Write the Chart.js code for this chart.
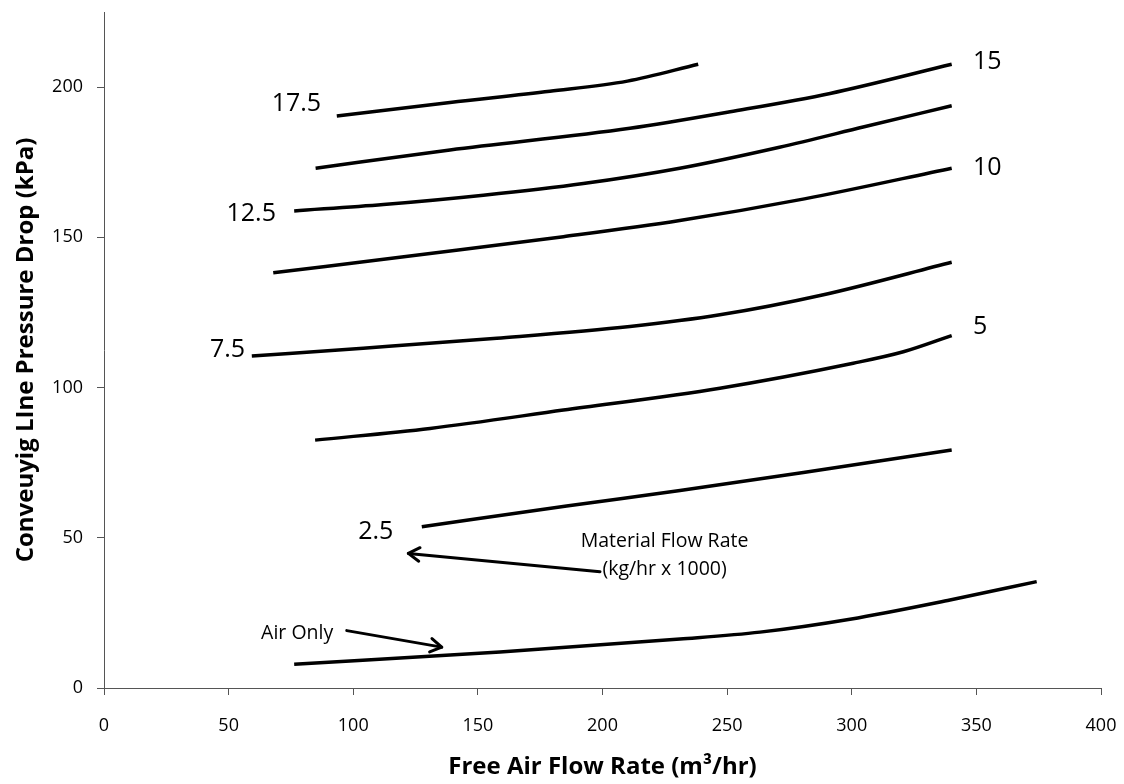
<!DOCTYPE html>
<html>
<head>
<meta charset="utf-8">
<script src="https://cdn.jsdelivr.net/npm/chart.js@4.4.1/dist/chart.umd.min.js"></script>
<style>
  html, body { margin: 0; padding: 0; background: #fff; }
</style>
</head>
<body>
<canvas id="chart" width="1124" height="784"></canvas>
<script>
// free air flow rate (m3/hr) vs conveying line pressure drop (kPa), one pair per curve
const airOnlyX = [76.3, 158.9, 231.1, 263.2, 299.3, 339.4, 374.2];
const airOnlyY = [7.9, 12.0, 16.3, 18.6, 22.9, 29.3, 35.4];

const rate2_5X = [127.5, 185.6, 231.1, 280.6, 340.1];
const rate2_5Y = [53.7, 60.6, 65.7, 71.7, 79.2];

const rate5X = [84.7, 130.8, 184.3, 247.1, 300.6, 320.7, 340.1];
const rate5Y = [82.5, 86.4, 92.5, 99.8, 108.1, 111.9, 117.3];

const rate7_5X = [59.3, 104.0, 157.6, 211.0, 247.1, 288.2, 340.1];
const rate7_5Y = [110.5, 113.1, 116.4, 120.3, 124.2, 130.8, 141.7];

const rate10X = [67.9, 130.8, 184.3, 231.0, 281.0, 340.1];
const rate10Y = [138.2, 144.6, 150.2, 155.6, 162.8, 173.0];

const rate12_5X = [76.3, 112.1, 152.2, 192.3, 231.0, 271.0, 305.0, 340.1];
const rate12_5Y = [158.8, 160.9, 164.0, 167.9, 173.0, 180.0, 186.8, 193.8];

const rate15X = [84.9, 138.8, 211.0, 251.2, 291.3, 340.1];
const rate15Y = [173.0, 179.1, 186.3, 191.8, 197.9, 207.6];

const rate17_5X = [93.4, 138.8, 178.9, 210.0, 238.4];
const rate17_5Y = [190.4, 194.9, 198.6, 202.0, 207.6];

const xTicks = [0, 50, 100, 150, 200, 250, 300, 350, 400];
const yTicks = [0, 50, 100, 150, 200];

// text notes on the plot, in data units
const curveLabels = [
    { text: '17.5', x: 87.1, y: 194.4, align: 'right' },
    { text: '12.5', x: 69.0, y: 157.7, align: 'right' },
    { text: '7.5', x: 56.6, y: 112.5, align: 'right' },
    { text: '2.5', x: 116.1, y: 52.0, align: 'right' },
    { text: '15', x: 348.6, y: 208.3, align: 'left' },
    { text: '10', x: 348.6, y: 173.0, align: 'left' },
    { text: '5', x: 348.6, y: 120.3, align: 'left' },
];
const notes = [
    { text: 'Air Only', x: 77.5, y: 18.2 },
    { text: 'Material Flow Rate', x: 224.9, y: 48.7 },
    { text: '(kg/hr x 1000)', x: 224.9, y: 39.3 },
];
const arrows = [
    { from: [97.4, 19.1], to: [135.5, 13.6] },
    { from: [199.0, 38.7], to: [122.1, 44.8] },
];

function toPoints(xs, ys) {
    return xs.map((x, i) => ({ x, y: ys[i] }));
}

function curve(label, xs, ys) {
    return {
        label,
        data: toPoints(xs, ys),
        borderColor: '#000',
        borderWidth: 3.5,
        pointRadius: 0,
        fill: false,
        cubicInterpolationMode: 'monotone',
        borderCapStyle: 'butt',
    };
}

const notesPlugin = {
    id: 'notes',
    afterDatasetsDraw(chart) {
        const c = chart.ctx;
        const xs = chart.scales.x;
        const ys = chart.scales.y;
        c.save();
        c.fillStyle = '#000';
        c.textBaseline = 'middle';

        c.font = '25px "Open Sans"';
        curveLabels.forEach(l => {
            c.textAlign = l.align;
            c.fillText(l.text, xs.getPixelForValue(l.x), ys.getPixelForValue(l.y));
        });

        c.font = '19.5px "Open Sans"';
        c.textAlign = 'center';
        notes.forEach(n => {
            c.fillText(n.text, xs.getPixelForValue(n.x), ys.getPixelForValue(n.y));
        });

        c.strokeStyle = '#000';
        c.lineWidth = 3;
        c.lineCap = 'round';
        c.lineJoin = 'round';
        arrows.forEach(a => {
            const x1 = xs.getPixelForValue(a.from[0]);
            const y1 = ys.getPixelForValue(a.from[1]);
            const x2 = xs.getPixelForValue(a.to[0]);
            const y2 = ys.getPixelForValue(a.to[1]);
            const ang = Math.atan2(y2 - y1, x2 - x1);
            const head = 13;
            c.beginPath();
            c.moveTo(x1, y1);
            c.lineTo(x2, y2);
            c.stroke();
            c.beginPath();
            c.moveTo(x2 - head * Math.cos(ang - 0.55), y2 - head * Math.sin(ang - 0.55));
            c.lineTo(x2, y2);
            c.lineTo(x2 - head * Math.cos(ang + 0.55), y2 - head * Math.sin(ang + 0.55));
            c.stroke();
        });
        c.restore();
    },
};

new Chart(document.getElementById('chart').getContext('2d'), {
    type: 'line',
    data: {
        datasets: [
            curve('Air Only', airOnlyX, airOnlyY),
            curve('2.5', rate2_5X, rate2_5Y),
            curve('5', rate5X, rate5Y),
            curve('7.5', rate7_5X, rate7_5Y),
            curve('10', rate10X, rate10Y),
            curve('12.5', rate12_5X, rate12_5Y),
            curve('15', rate15X, rate15Y),
            curve('17.5', rate17_5X, rate17_5Y),
        ],
    },
    options: {
        responsive: false,
        animation: false,
        devicePixelRatio: 1,
        layout: { padding: { top: 12, right: 23, left: 0, bottom: 0 } },
        plugins: {
            legend: { display: false },
            tooltip: { enabled: false },
        },
        scales: {
            x: {
                type: 'linear',
                min: 0,
                max: 400,
                afterBuildTicks: s => { s.ticks = xTicks.map(v => ({ value: v })); },
                afterFit: s => {
                    s.height = 96;
                    s.paddingLeft = 0;
                    s.paddingRight = 0;
                },
                ticks: {
                    color: '#000',
                    font: { family: 'Open Sans', size: 18 },
                    padding: 20,
                    maxRotation: 0,
                },
                grid: { drawOnChartArea: false, color: '#555', tickLength: 7 },
                border: { color: '#555', width: 1 },
                title: {
                    display: true,
                    text: 'Free Air Flow Rate (m³/hr)',
                    color: '#000',
                    font: { family: 'Open Sans', size: 24, weight: 'bold' },
                    padding: { top: 0, bottom: 2 },
                },
            },
            y: {
                type: 'linear',
                min: 0,
                max: 225,
                afterBuildTicks: s => { s.ticks = yTicks.map(v => ({ value: v })); },
                afterFit: s => {
                    s.width = 104;
                    s.paddingTop = 0;
                    s.paddingBottom = 0;
                },
                ticks: {
                    color: '#000',
                    font: { family: 'Open Sans', size: 18 },
                    padding: 14,
                },
                grid: { drawOnChartArea: false, color: '#555', tickLength: 7 },
                border: { color: '#555', width: 1 },
                title: {
                    display: true,
                    text: 'Conveuyig LIne Pressure Drop (kPa)',
                    color: '#000',
                    font: { family: 'Open Sans', size: 24, weight: 'bold' },
                    padding: { top: 12, bottom: 0 },
                },
            },
        },
    },
    plugins: [notesPlugin],
});
</script>
</body>
</html>
